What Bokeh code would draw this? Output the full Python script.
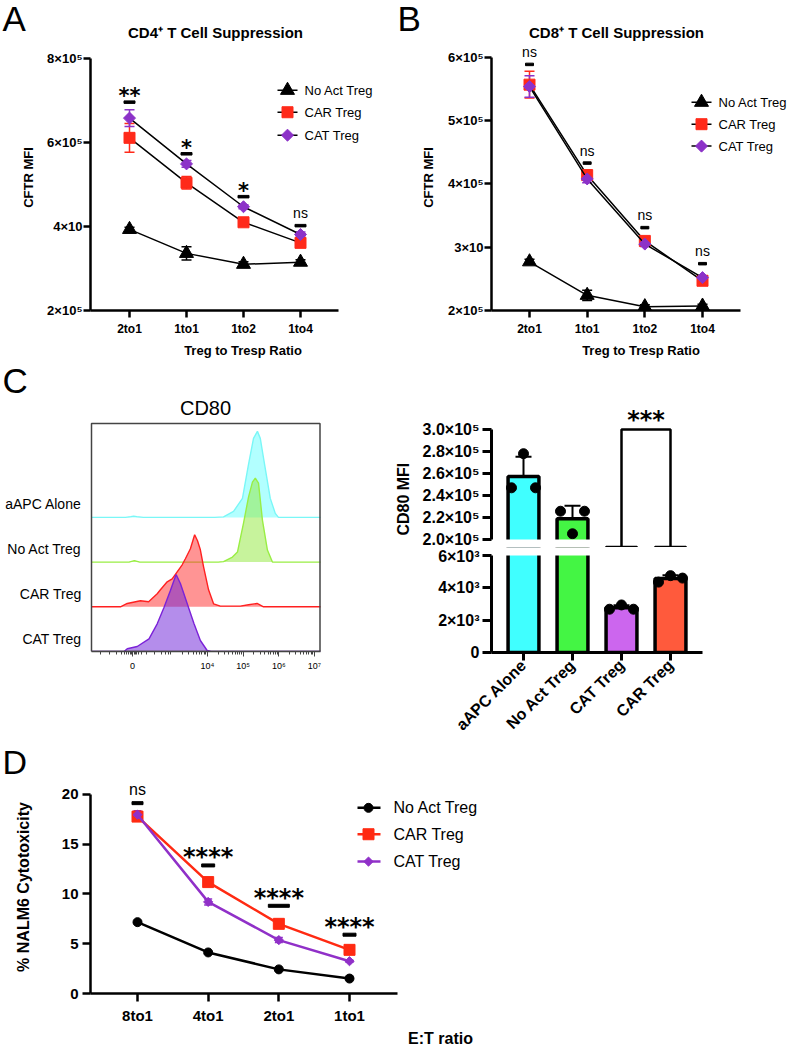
import numpy as np
from bokeh.plotting import figure
from bokeh.models import Label, FixedTicker, Whisker, TeeHead, ColumnDataSource, Range1d
from bokeh.layouts import column, row
from bokeh.embed import file_html
from bokeh.resources import INLINE

FONT = "Liberation Sans"
STAR_FONT = "DejaVu Sans"

# ======================= DATA =======================
series_names = ["No Act Treg", "CAR Treg", "CAT Treg"]

# Panel A: CD4+ T cell suppression (CFTR MFI)
cd4_ratios = ["2to1", "1to1", "1to2", "1to4"]
cd4_noact = [3.93e5, 3.36e5, 3.10e5, 3.15e5]
cd4_noact_sd = [0.05e5, 0.16e5, 0.06e5, 0.06e5]
cd4_car = [6.11e5, 5.04e5, 4.10e5, 3.61e5]
cd4_car_sd = [0.34e5, 0.15e5, 0.06e5, 0.07e5]
cd4_cat = [6.58e5, 5.49e5, 4.47e5, 3.81e5]
cd4_cat_sd = [0.20e5, 0.08e5, 0.05e5, 0.06e5]
cd4_sig = ["**", "*", "*", "ns"]
cd4_sig_y = [6.96e5, 5.73e5, 4.71e5, 4.02e5]
cd4_yticks = [2e5, 4e5, 6e5, 8e5]
cd4_ytick_labels = ["2×10⁵", "4×10", "6×10⁵", "8×10⁵"]

# Panel B: CD8+ T cell suppression (CFTR MFI)
cd8_ratios = ["2to1", "1to1", "1to2", "1to4"]
cd8_noact = [2.77e5, 2.24e5, 2.06e5, 2.07e5]
cd8_noact_sd = [0.04e5, 0.08e5, 0.03e5, 0.03e5]
cd8_car = [5.57e5, 4.14e5, 3.10e5, 2.47e5]
cd8_car_sd = [0.21e5, 0.08e5, 0.05e5, 0.05e5]
cd8_cat = [5.54e5, 4.08e5, 3.05e5, 2.52e5]
cd8_cat_sd = [0.17e5, 0.06e5, 0.04e5, 0.03e5]
cd8_sig = ["ns", "ns", "ns", "ns"]
cd8_sig_y = [5.89e5, 4.33e5, 3.31e5, 2.74e5]
cd8_yticks = [2e5, 3e5, 4e5, 5e5, 6e5]
cd8_ytick_labels = ["2×10⁵", "3×10", "4×10⁵", "5×10⁵", "6×10⁵"]

# Panel C left: CD80 histograms (x in display decades, height in relative counts)
hist_names = ["aAPC Alone", "No Act Treg", "CAR Treg", "CAT Treg"]
aapc_u = [0.75, 1.70, 1.85, 1.93, 2.02, 2.20, 4.20, 4.45, 4.73, 4.98, 5.15, 5.29, 5.40, 5.48, 5.60, 5.76, 5.90, 5.99, 7.17]
aapc_h = [0, 0, 0.8, 1.3, 0.8, 0, 0, 0.5, 6, 19, 53, 79, 86, 79, 53, 19, 4, 0, 0]
noact_u = [0.75, 1.80, 1.95, 2.10, 4.30, 4.45, 4.70, 4.84, 5.01, 5.15, 5.26, 5.34, 5.43, 5.54, 5.68, 5.82, 7.17]
noact_h = [0, 0, 1.5, 0, 0, 0.5, 5, 10, 39, 65, 80, 84, 79, 42, 12, 0, 0]
car_u = [0.75, 1.56, 1.75, 2.12, 2.35, 2.59, 2.68, 2.87, 3.01, 3.15, 3.29, 3.38, 3.52, 3.64, 3.72, 3.80, 3.89, 4.03, 4.17, 4.36, 4.92, 5.15, 5.39, 5.57, 7.17]
car_h = [0, 0, 3.3, 6, 5, 13, 17, 25, 28, 35, 42, 48, 58, 72, 66, 57, 40, 17, 3, 0.7, 0.7, 2, 3.3, 0, 0]
cat_u = [0.75, 1.66, 1.75, 2.03, 2.36, 2.59, 2.78, 2.96, 3.12, 3.24, 3.43, 3.62, 3.80, 3.99, 4.10, 7.17]
cat_h = [0, 0, 2.7, 5, 12.7, 27.7, 44, 61, 77, 68, 48, 28, 11, 1, 0, 0]
hist_ticks = [1.9, 4, 5, 6, 7]
hist_tick_labels = ["0", "10⁴", "10⁵", "10⁶", "10⁷"]

# Panel C right: CD80 MFI bars (3 replicates each)
bar_groups = ["aAPC Alone", "No Act Treg", "CAT Treg", "CAR Treg"]
bar_points = [[2.47e5, 2.78e5, 2.47e5],
              [2.257e5, 2.052e5, 2.257e5],
              [2.675e3, 2.94e3, 2.675e3],
              [4.35e3, 4.75e3, 4.60e3]]
bar_upper_ticks = [2.0e5, 2.2e5, 2.4e5, 2.6e5, 2.8e5, 3.0e5]
bar_upper_labels = ["2.0×10⁵", "2.2×10⁵", "2.4×10⁵", "2.6×10⁵", "2.8×10⁵", "3.0×10⁵"]
bar_lower_ticks = [0, 2000, 4000, 6000]
bar_lower_labels = ["0", "2×10³", "4×10³", "6×10³"]
bar_sig = "***"

# Panel D: NALM6 cytotoxicity
et_ratios = ["8to1", "4to1", "2to1", "1to1"]
nalm_noact = [7.16, 4.12, 2.42, 1.50]
nalm_noact_sd = [0.10, 0.12, 0.10, 0.08]
nalm_car = [17.75, 11.18, 6.99, 4.38]
nalm_car_sd = [0.30, 0.25, 0.20, 0.15]
nalm_cat = [17.94, 9.19, 5.36, 3.24]
nalm_cat_sd = [0.40, 0.30, 0.25, 0.10]
nalm_sig = ["ns", "****", "****", "****"]
nalm_sig_y = [19.1, 12.85, 8.8, 5.9]

# ======================= STYLE =======================
RED = "#ff2a1a"
PURPLE = "#8c32c8"
RED_D = "#ff2a12"
PURPLE_D = "#9030c8"
bar_colors = ["#40ffff", "#44f544", "#cc66ee", "#ff5a3c"]


class Geo:
    """Canvas box and frame box (page px); linear maps value<->page px from two anchors."""
    def __init__(self, cx, cy, w, h, frame, xmap=(0, 0, 1, 1), ymap=(0, 0, 1, 1)):
        self.cx, self.cy, self.w, self.h = cx, cy, w, h
        self.fx0, self.fx1, self.fy0, self.fy1 = frame
        self.xm, self.ym = xmap, ymap
        self.x0, self.x1 = self.dx(self.fx0), self.dx(self.fx1)
        self.y0, self.y1 = self.dy(self.fy1), self.dy(self.fy0)

    def dx(self, px):
        va, pa, vb, pb = self.xm
        return va + (px - pa) * (vb - va) / (pb - pa)

    def dy(self, py):
        va, pa, vb, pb = self.ym
        return va + (py - pa) * (vb - va) / (pb - pa)

    def px(self, v):
        va, pa, vb, pb = self.xm
        return pa + (v - va) * (pb - pa) / (vb - va)

    def py(self, v):
        va, pa, vb, pb = self.ym
        return pa + (v - va) * (pb - pa) / (vb - va)

    def figure(self, **kw):
        p = figure(width=self.w, height=self.h,
                   x_range=Range1d(self.x0, self.x1), y_range=Range1d(self.y0, self.y1),
                   min_border_left=int(round(self.fx0 - self.cx)),
                   min_border_right=int(round(self.cx + self.w - self.fx1)),
                   min_border_top=int(round(self.fy0 - self.cy)),
                   min_border_bottom=int(round(self.cy + self.h - self.fy1)),
                   output_backend="svg", toolbar_location=None, **kw)
        p.outline_line_color = None
        p.grid.visible = False
        p.background_fill_color = "white"
        p.border_fill_color = "white"
        return p


def style_axis(ax, lw, tick_out, size, standoff):
    ax.axis_line_color = "black"
    ax.axis_line_width = lw
    ax.major_tick_line_color = "black"
    ax.major_tick_line_width = lw
    ax.major_tick_out = tick_out
    ax.major_tick_in = 0
    ax.minor_tick_line_color = None
    ax.major_label_text_font = FONT
    ax.major_label_text_font_size = f"{size}px"
    ax.major_label_text_font_style = "bold"
    ax.major_label_text_color = "black"
    ax.major_label_standoff = standoff
    ax.axis_label_text_font = FONT
    ax.axis_label_text_font_style = "bold"
    ax.axis_label_text_color = "black"


def add_label(p, g, px, py, text, size, bold=False, align="center", baseline="middle",
              angle=0.0, font=FONT, color="black"):
    p.add_layout(Label(x=g.dx(px), y=g.dy(py), text=text, text_font=font,
                       text_font_size=f"{size}px",
                       text_font_style="bold" if bold else "normal",
                       text_align=align, text_baseline=baseline, angle=angle,
                       text_color=color))


def add_star(p, g, px, pcy, text, size):
    add_label(p, g, px, pcy + 0.22 * size, text, size, bold=True,
              baseline="alphabetic", font=STAR_FONT)


def errbars(p, xs, vals, sds, color, cap, lw):
    src = ColumnDataSource(dict(x=xs, lo=[v - s for v, s in zip(vals, sds)],
                                hi=[v + s for v, s in zip(vals, sds)]))
    p.add_layout(Whisker(source=src, base="x", lower="lo", upper="hi",
                         line_color=color, line_width=lw, level="underlay",
                         upper_head=TeeHead(size=cap, line_color=color, line_width=lw),
                         lower_head=TeeHead(size=cap, line_color=color, line_width=lw)))


def header(cy, h):
    g = Geo(0, cy, 790, h, (0, 790, cy, cy + h))
    p = g.figure(x_axis_type=None, y_axis_type=None)
    return p, g


# ======================= HEADER (letters A, B and titles) =======================
pH1, gH1 = header(0, 44)
add_label(pH1, gH1, 2, 18, "A", 35, align="left")
add_label(pH1, gH1, 397, 18, "B", 35, align="left")
add_label(pH1, gH1, 215, 32, "CD4⁺ T Cell Suppression", 15, bold=True)
add_label(pH1, gH1, 616, 32, "CD8⁺ T Cell Suppression", 15, bold=True)

# ======================= PANELS A & B =======================
cd_marks = [("black", "triangle", 14, 0.0), (RED, "square", 11, 0.0), (PURPLE, "square", 8.5, np.pi / 4)]


def cd_panel(g, axis_px, ratios, vals, sds, sig, sig_y, yticks, ylabels,
             ylab_standoff, leg_x, leg_rows, sig_w):
    p = g.figure()
    xs = list(range(len(ratios)))
    style_axis(p.xaxis[0], 2.5, 7, 12, 4)
    style_axis(p.yaxis[0], 2.5, 7, 13, 1)
    p.xaxis.ticker = FixedTicker(ticks=xs)
    p.xaxis.major_label_overrides = {i: r for i, r in enumerate(ratios)}
    p.xaxis.bounds = (g.dx(axis_px[0]), g.dx(axis_px[1]))
    p.yaxis.ticker = FixedTicker(ticks=yticks)
    p.yaxis.major_label_overrides = dict(zip(yticks, ylabels))
    p.yaxis.bounds = (yticks[0], yticks[-1])
    p.xaxis.axis_label = "Treg to Tresp Ratio"
    p.xaxis.axis_label_text_font_size = "13px"
    p.xaxis.axis_label_standoff = 4
    p.yaxis.axis_label = "CFTR MFI"
    p.yaxis.axis_label_text_font_size = "13px"
    p.yaxis.axis_label_standoff = ylab_standoff

    for (color, marker, size, ang), v, s in zip(cd_marks, vals, sds):
        errbars(p, xs, v, s, color, 10, 1.5)
    for (color, marker, size, ang), v in zip(cd_marks, vals):
        p.line(xs, v, line_color="black", line_width=1.5)
        p.scatter(xs, v, marker=marker, size=size, angle=ang, fill_color=color, line_color=color)

    for i, (s, yv) in enumerate(zip(sig, sig_y)):
        p.rect(x=[i], y=[yv], width=sig_w, height=2.5, width_units="screen",
               height_units="screen", color="black")
        bpy = g.py(yv)
        if s == "ns":
            add_label(p, g, g.px(i), bpy - 12.5, s, 14)
        else:
            add_star(p, g, g.px(i), bpy - 10.5, s, 21)

    for (color, marker, size, ang), name, ry in zip(cd_marks, series_names, leg_rows):
        y = g.dy(ry)
        p.segment(x0=[g.dx(leg_x)], y0=[y], x1=[g.dx(leg_x + 20)], y1=[y],
                  line_color="black", line_width=1.5)
        p.scatter([g.dx(leg_x + 10)], [y], marker=marker, size=size, angle=ang,
                  fill_color=color, line_color=color)
        add_label(p, g, leg_x + 27, ry, name, 13, align="left")
    return p


gA = Geo(0, 44, 395, 316, (90, 395, 44, 311), xmap=(0, 129, 3, 300), ymap=(2e5, 311, 8e5, 58))
pA = cd_panel(gA, (90, 338), cd4_ratios,
              [cd4_noact, cd4_car, cd4_cat], [cd4_noact_sd, cd4_car_sd, cd4_cat_sd],
              cd4_sig, cd4_sig_y, cd4_yticks, cd4_ytick_labels, 8, 277, [90, 112, 135], 11)

gB = Geo(395, 44, 395, 316, (491, 790, 44, 311), xmap=(0, 529, 3, 702), ymap=(2e5, 311, 6e5, 57))
pB = cd_panel(gB, (491, 740), cd8_ratios,
              [cd8_noact, cd8_car, cd8_cat], [cd8_noact_sd, cd8_car_sd, cd8_cat_sd],
              cd8_sig, cd8_sig_y, cd8_yticks, cd8_ytick_labels, 9, 691, [102, 124, 146], 8)

# ======================= PANEL C: histogram =======================
gH = Geo(0, 360, 390, 382, (0, 390, 360, 651), xmap=(4, 207, 7, 314), ymap=(0, 651, 228, 423))
pH = gH.figure(y_axis_type=None)
box_u = (gH.dx(91), gH.dx(319.5))
axh = pH.xaxis[0]
hist_minor = [1.0, 1.25, 1.45, 1.58, 1.67, 1.74, 1.79, 1.83, 1.86, 1.94, 1.97, 2.01, 2.06,
              2.14, 2.3, 2.52, 2.7, 2.82, 2.9, 2.96] + \
             [d + np.log10(k) for d in (3, 4, 5, 6) for k in range(2, 10)]
axh.ticker = FixedTicker(ticks=hist_ticks, minor_ticks=hist_minor)
axh.major_label_overrides = dict(zip(hist_ticks, hist_tick_labels))
axh.bounds = box_u
axh.axis_line_color = "#444444"
axh.axis_line_width = 1.5
axh.major_tick_line_color = "#444444"
axh.minor_tick_line_color = "#444444"
axh.major_tick_out = 5
axh.major_tick_in = 0
axh.minor_tick_out = 3
axh.minor_tick_in = 0
axh.major_label_text_font = FONT
axh.major_label_text_font_size = "9px"
axh.major_label_standoff = 4
axh.major_label_text_color = "black"

lane = 228 / 5.1
hist_curves = [
    (aapc_u, aapc_h, "#7af7f7", "#66ffff", 3 * lane),
    (noact_u, noact_h, "#99ee44", "#8fe83a", 2 * lane),
    (car_u, car_h, "#ff2020", "#ff2a2a", 1 * lane),
    (cat_u, cat_h, "#7b22d8", "#6a1bd8", 0.0),
]
for (u, h, lc, fc, off), name in zip(hist_curves, hist_names):
    top = [off + v for v in h]
    pH.varea(x=u, y1=[off] * len(u), y2=top, fill_color=fc, fill_alpha=0.5)
    pH.line(u, top, line_color=lc, line_width=1.4)
    add_label(pH, gH, 81, gH.py(off) - 13, name, 14, align="right")

pH.quad(left=[box_u[0]], right=[box_u[1]], bottom=[0], top=[228], fill_color=None,
        line_color="#444444", line_width=1.5)
add_label(pH, gH, 205, 407, "CD80", 20)
add_label(pH, gH, 2, 380, "C", 35, align="left")

# ======================= PANEL C: y-label strip =======================
gCl = Geo(390, 360, 26, 382, (390, 416, 360, 742))
pCl = gCl.figure(x_axis_type=None, y_axis_type=None)
add_label(pCl, gCl, 403, 542, "CD80 MFI", 16, bold=True, angle=np.pi / 2)

# ======================= PANEL C: broken-axis bars =======================
bx = list(range(len(bar_groups)))
bar_means = [float(np.mean(v)) for v in bar_points]
bar_sds = [float(np.std(v, ddof=1)) for v in bar_points]
pt_off = [-0.245, 0.0, 0.245]
brk_lo, brk_hi = bar_lower_ticks[-1], bar_upper_ticks[0]

xmap_bar = (0, 523, 3, 670)
gCt = Geo(416, 360, 374, 187, (491, 702, 360, 547), xmap=xmap_bar,
          ymap=(bar_upper_ticks[0], 539, bar_upper_ticks[-1], 429))
gCb = Geo(416, 547, 374, 195, (491, 702, 547, 653), xmap=xmap_bar,
          ymap=(0, 653, bar_lower_ticks[-1], 555))
pCt = gCt.figure(x_axis_type=None)
pCb = gCb.figure()

style_axis(pCt.yaxis[0], 3, 9, 16, 3)
pCt.yaxis.ticker = FixedTicker(ticks=bar_upper_ticks)
pCt.yaxis.major_label_overrides = dict(zip(bar_upper_ticks, bar_upper_labels))
pCt.yaxis.bounds = (bar_upper_ticks[0], bar_upper_ticks[-1])

style_axis(pCb.yaxis[0], 3, 9, 16, 3)
pCb.yaxis.ticker = FixedTicker(ticks=bar_lower_ticks)
pCb.yaxis.major_label_overrides = dict(zip(bar_lower_ticks, bar_lower_labels))
pCb.yaxis.bounds = (bar_lower_ticks[0], bar_lower_ticks[-1])
style_axis(pCb.xaxis[0], 3, 8, 16, 2)
pCb.xaxis.ticker = FixedTicker(ticks=bx)
pCb.xaxis.major_label_overrides = {i: n for i, n in enumerate(bar_groups)}
pCb.xaxis.major_label_orientation = np.pi / 4

for p in (pCt, pCb):
    p.vbar(x=bx, top=bar_means, bottom=0, width=0.63, fill_color=bar_colors,
           line_color="black", line_width=3.5)

up_idx = [i for i in bx if bar_means[i] > brk_hi]
lo_idx = [i for i in bx if bar_means[i] <= brk_lo]
errbars(pCt, [bx[i] for i in up_idx], [bar_means[i] for i in up_idx],
        [bar_sds[i] for i in up_idx], "black", 16, 2)
errbars(pCb, [bx[i] for i in lo_idx], [bar_means[i] for i in lo_idx],
        [bar_sds[i] for i in lo_idx], "black", 16, 2)

for p in (pCt, pCb):
    for i, pts in enumerate(bar_points):
        p.scatter([i + o for o in pt_off], pts, marker="circle", size=10, color="black")

# axis-break gap (white band over the first two bars)
gap_right = 1.45
pCt.quad(left=[gCt.x0], right=[gap_right], bottom=[gCt.y0 - 1e5], top=[brk_hi],
         fill_color="white", line_color=None)
pCb.quad(left=[gCb.x0], right=[gap_right], bottom=[brk_lo], top=[gCb.y1 * 3],
         fill_color="white", line_color=None)

# significance bracket CAT vs CAR
pad = 12 * (gCb.dy(0) - gCb.dy(12))
legs = [max(bar_points[2]) + pad, max(bar_points[3]) + pad]
pCb.segment(x0=[2, 3], y0=legs, x1=[2, 3], y1=[gCb.y1 * 3] * 2, line_color="black", line_width=2.5)
br_top = bar_upper_ticks[-1]
far = gCt.y0 - 1e5
pCt.line([2, 2, 3, 3], [far, br_top, br_top, far], line_color="black", line_width=2.5)
add_star(pCt, gCt, gCt.px(2.5), gCt.py(br_top) - 15, bar_sig, 24)

# ======================= PANEL D =======================
pH3, gH3 = header(742, 38)
add_label(pH3, gH3, 2, 761, "D", 34, align="left")

gD = Geo(0, 780, 790, 269, (90, 790, 780, 998), xmap=(0, 137, 3, 349), ymap=(0, 998, 20, 794))
pD = gD.figure()
dx_ = list(range(len(et_ratios)))
style_axis(pD.xaxis[0], 2.5, 8, 15, 5)
style_axis(pD.yaxis[0], 2.5, 8, 15, 4)
pD.xaxis.ticker = FixedTicker(ticks=dx_)
pD.xaxis.major_label_overrides = {i: r for i, r in enumerate(et_ratios)}
pD.xaxis.bounds = (gD.dx(90), gD.dx(397))
pD.xaxis.axis_label = "E:T ratio"
pD.xaxis.axis_label_text_font_size = "16px"
pD.xaxis.axis_label_standoff = 3
pD.yaxis.ticker = FixedTicker(ticks=[0, 5, 10, 15, 20])
pD.yaxis.bounds = (0, 20)
pD.yaxis.axis_label = "% NALM6 Cytotoxicity"
pD.yaxis.axis_label_text_font_size = "16px"
pD.yaxis.axis_label_standoff = 27

d_marks = [("black", "circle", 9, 0.0), (RED_D, "square", 11, 0.0), (PURPLE_D, "square", 6.5, np.pi / 4)]
d_vals = [nalm_noact, nalm_car, nalm_cat]
d_sds = [nalm_noact_sd, nalm_car_sd, nalm_cat_sd]
for (color, marker, size, ang), v, s in zip(d_marks, d_vals, d_sds):
    errbars(pD, dx_, v, s, color, 8, 1.5)
for (color, marker, size, ang), v in zip(d_marks, d_vals):
    pD.line(dx_, v, line_color=color, line_width=2.5)
    pD.scatter(dx_, v, marker=marker, size=size, angle=ang, fill_color=color, line_color=color)

d_sig_w = [11, 13, 21, 13]
for i, (s, yv) in enumerate(zip(nalm_sig, nalm_sig_y)):
    pD.rect(x=[i], y=[yv], width=d_sig_w[i], height=3, width_units="screen",
            height_units="screen", color="black")
    bpy = gD.py(yv)
    if s == "ns":
        add_label(pD, gD, gD.px(i), bpy - 14, s, 16)
    else:
        add_star(pD, gD, gD.px(i), bpy - 13.5, s, 24)

for (color, marker, size, ang), name, ry in zip(d_marks, series_names, [808, 835, 863]):
    y = gD.dy(ry)
    pD.segment(x0=[gD.dx(357)], y0=[y], x1=[gD.dx(380)], y1=[y], line_color=color, line_width=2.5)
    pD.scatter([gD.dx(368)], [y], marker=marker, size=size, angle=ang,
               fill_color=color, line_color=color)
    add_label(pD, gD, 393, ry, name, 16, align="left")

layout = column(row(pH1), row(pA, pB), row(pH, pCl, column(pCt, pCb)), row(pH3), row(pD))
with open("out.html", "w") as f:
    f.write(file_html(layout, INLINE, title="CAR Treg figure"))
